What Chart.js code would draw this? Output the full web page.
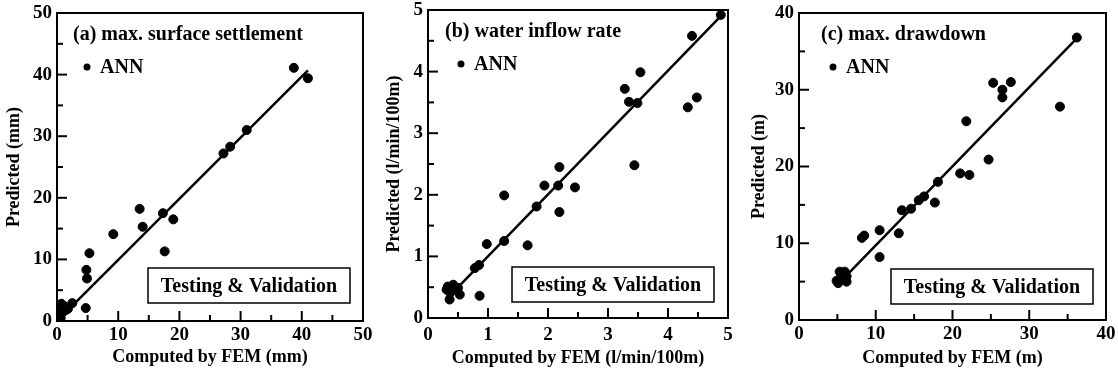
<!DOCTYPE html>
<html>
<head>
<meta charset="utf-8">
<script src="https://cdn.jsdelivr.net/npm/chart.js@4/dist/chart.umd.min.js"></script>
<style>
  body { margin: 0; background: #fff; }
  .panel { position: absolute; top: 0; width: 373px; height: 373px; }
</style>
</head>
<body>
<div class="panel" style="left:0px"><canvas id="chartA" width="373" height="373"></canvas></div>
<div class="panel" style="left:373px"><canvas id="chartB" width="373" height="373"></canvas></div>
<div class="panel" style="left:745px"><canvas id="chartC" width="373" height="373"></canvas></div>
<script>
// (a) max. surface settlement (mm)
const settleX = [38.7, 41.0, 27.2, 28.3, 31.0, 13.5, 14.0, 17.3, 17.6, 19.0, 9.2, 5.3, 4.8, 4.9, 4.7, 2.5, 0.2, 0.4, 0.5, 0.8, 1.0, 0.3, 1.5, 0.6, 1.2, 0.1, 0.7, 1.8];
const settleY = [41.1, 39.4, 27.2, 28.3, 31.0, 18.2, 15.3, 17.5, 11.3, 16.5, 14.1, 11.0, 8.3, 6.9, 2.1, 2.9, 0.3, 1.0, 2.5, 2.2, 1.5, 1.8, 1.8, 0.5, 2.4, 0.8, 2.8, 2.0];
const settleFitX = [1.5, 41];
const settleFitY = [1.5, 40.7];

// (b) water inflow rate (l/min/100m)
const inflowX = [4.88, 4.40, 4.33, 4.48, 3.54, 3.28, 3.35, 3.49, 3.44, 2.19, 2.17, 2.45, 1.94, 2.19, 1.27, 1.81, 1.27, 0.98, 1.66, 0.85, 0.78, 0.86, 0.33, 0.36, 0.53, 0.44, 0.31, 0.42, 0.37, 0.50];
const inflowY = [4.92, 4.58, 3.42, 3.58, 3.99, 3.72, 3.51, 3.49, 2.48, 2.45, 2.15, 2.12, 2.15, 1.72, 1.99, 1.81, 1.25, 1.20, 1.18, 0.86, 0.81, 0.36, 0.51, 0.30, 0.38, 0.46, 0.46, 0.54, 0.41, 0.49];
const inflowFitX = [0.45, 4.9];
const inflowFitY = [0.45, 4.92];

// (c) max. drawdown (m)
const drawX = [36.2, 34.0, 25.3, 27.6, 26.5, 26.5, 21.8, 24.7, 21.0, 22.2, 18.1, 17.7, 16.3, 15.6, 14.6, 13.4, 13.0, 10.5, 10.5, 8.5, 8.2, 5.1, 4.9, 5.3, 5.96, 6.2, 5.5, 6.2, 5.7];
const drawY = [36.8, 27.8, 30.9, 31.0, 30.0, 29.0, 25.9, 20.9, 19.1, 18.9, 18.0, 15.3, 16.1, 15.6, 14.5, 14.3, 11.3, 11.7, 8.2, 11.0, 10.7, 4.8, 5.1, 6.3, 6.3, 5.7, 5.7, 5.0, 6.1];
const drawFitX = [6.2, 36];
const drawFitY = [5.8, 36.5];

const FONT = "'Liberation Serif', 'Times New Roman', serif";

function toPoints(xs, ys) {
    return xs.map((x, i) => ({ x: x, y: ys[i] }));
}

// Frame, inward ticks, panel title, legend and note box
const framePlugin = {
    id: 'frame',
    afterDraw(chart, args, opts) {
        const ctx = chart.ctx;
        const a = chart.chartArea;
        const xs = chart.scales.x;
        const ys = chart.scales.y;
        ctx.save();
        ctx.strokeStyle = '#000';
        ctx.lineWidth = 2;
        ctx.strokeRect(a.left, a.top, a.right - a.left, a.bottom - a.top);

        // ticks: major at library ticks, minor half way between them
        function tickVals(scale) {
            const out = [];
            const t = scale.ticks;
            for (let i = 0; i < t.length; i++) {
                out.push([t[i].value, true]);
                if (i < t.length - 1) out.push([(t[i].value + t[i + 1].value) / 2, false]);
            }
            return out;
        }
        ctx.lineWidth = 2;
        tickVals(xs).forEach(([v, major]) => {
            const px = xs.getPixelForValue(v);
            ctx.beginPath();
            ctx.moveTo(px, a.bottom);
            ctx.lineTo(px, a.bottom - (major ? 10 : 6));
            ctx.stroke();
        });
        tickVals(ys).forEach(([v, major]) => {
            const py = ys.getPixelForValue(v);
            ctx.beginPath();
            ctx.moveTo(a.left, py);
            ctx.lineTo(a.left + (major ? 10 : 6), py);
            ctx.stroke();
        });

        ctx.fillStyle = '#000';
        ctx.textBaseline = 'middle';
        ctx.textAlign = 'left';

        // panel title
        ctx.font = 'bold 20px ' + FONT;
        ctx.fillText(opts.title, a.left + opts.titleDx, a.top + 22);

        // legend
        const label = chart.data.datasets[1].label;
        ctx.beginPath();
        ctx.arc(a.left + opts.legDx, a.top + 54, 3.5, 0, Math.PI * 2);
        ctx.fill();
        ctx.fillText(label, a.left + opts.legDx + 13, a.top + 55);

        // note box
        const note = 'Testing & Validation';
        const w = 202, h = 35;
        const bx = a.right - opts.boxDx - w;
        const by = a.bottom - opts.boxDy - h;
        ctx.lineWidth = 1.5;
        ctx.strokeRect(bx, by, w, h);
        ctx.textAlign = 'center';
        ctx.fillText(note, bx + w / 2, by + h / 2 + 1);
        ctx.restore();
    }
};

function makePanel(id, p) {
    return new Chart(document.getElementById(id), {
        type: 'scatter',
        data: {
            datasets: [
                {
                    label: 'fit',
                    data: toPoints(p.fitX, p.fitY),
                    showLine: true,
                    borderColor: '#000',
                    borderWidth: 2.5,
                    pointRadius: 0
                },
                {
                    label: 'ANN',
                    data: toPoints(p.xs, p.ys),
                    backgroundColor: '#000',
                    borderColor: '#000',
                    pointRadius: 4.5,
                    pointHoverRadius: 4.5
                }
            ]
        },
        options: {
            responsive: false,
            animation: false,
            events: [],
            layout: { padding: { left: 0, top: p.top, right: p.right, bottom: 0 } },
            plugins: {
                legend: { display: false },
                tooltip: { enabled: false },
                frame: p.frame
            },
            scales: {
                x: {
                    type: 'linear',
                    min: 0, max: p.max,
                    grid: { display: false, drawTicks: false },
                    border: { display: false },
                    ticks: { stepSize: p.step, padding: p.xPad, color: '#000', font: { family: FONT, size: 19, weight: 'bold' } },
                    title: { display: true, text: p.xTitle, color: '#000', padding: { top: 0, bottom: p.xTitlePad }, font: { family: FONT, size: 18, weight: 'bold' } },
                    afterFit(scale) { scale.height = p.xH; scale.paddingLeft = 0; scale.paddingRight = 0; }
                },
                y: {
                    type: 'linear',
                    min: 0, max: p.max,
                    grid: { display: false, drawTicks: false },
                    border: { display: false },
                    ticks: { stepSize: p.step, padding: 5, color: '#000', font: { family: FONT, size: 19, weight: 'bold' } },
                    title: { display: true, text: p.yTitle, color: '#000', padding: { top: p.yTitlePad, bottom: 0 }, font: { family: FONT, size: 18, weight: 'bold' } },
                    afterFit(scale) { scale.width = p.yW; scale.paddingTop = 0; scale.paddingBottom = 0; }
                }
            }
        },
        plugins: [framePlugin]
    });
}

makePanel('chartA', {
    xs: settleX, ys: settleY, fitX: settleFitX, fitY: settleFitY,
    max: 50, step: 10,
    xTitle: 'Computed by FEM (mm)', yTitle: 'Predicted (mm)',
    top: 13, right: 10, xH: 52, yW: 57, xPad: 3, xTitlePad: 5, yTitlePad: 4,
    frame: { title: '(a) max. surface settlement', titleDx: 16, legDx: 30, boxDx: 13, boxDy: 18 }
});

makePanel('chartB', {
    xs: inflowX, ys: inflowY, fitX: inflowFitX, fitY: inflowFitY,
    max: 5, step: 1,
    xTitle: 'Computed by FEM (l/min/100m)', yTitle: 'Predicted (l/min/100m)',
    top: 10, right: 18, xH: 55, yW: 55, xPad: 6, xTitlePad: 4, yTitlePad: 11,
    frame: { title: '(b) water inflow rate', titleDx: 17, legDx: 33, boxDx: 14, boxDy: 16 }
});

makePanel('chartC', {
    xs: drawX, ys: drawY, fitX: drawFitX, fitY: drawFitY,
    max: 40, step: 10,
    xTitle: 'Computed by FEM (m)', yTitle: 'Predicted (m)',
    top: 13, right: 12, xH: 53, yW: 54, xPad: 3, xTitlePad: 4, yTitlePad: 4,
    frame: { title: '(c) max. drawdown', titleDx: 22, legDx: 34, boxDx: 13, boxDy: 16 }
});
</script>
</body>
</html>
